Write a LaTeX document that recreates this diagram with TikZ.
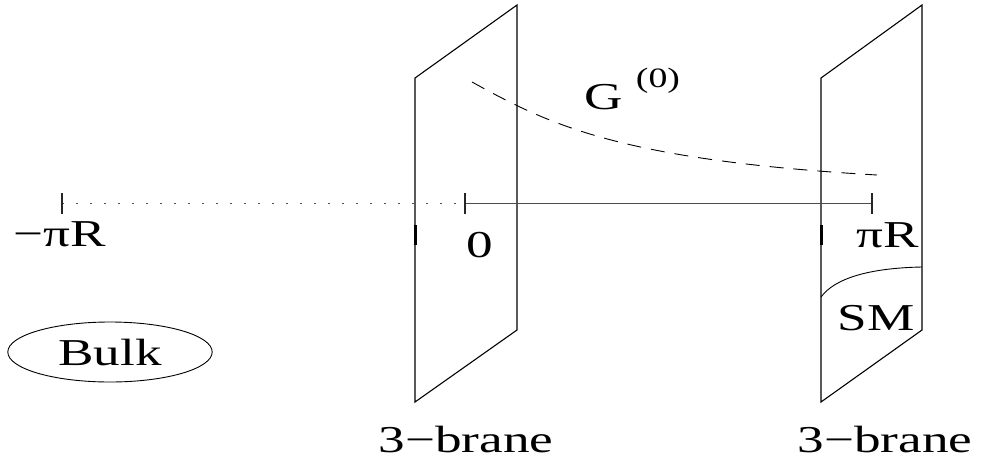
\documentclass[tikz,border=0pt]{standalone}
\usepackage{fontspec}
\setmainfont{Liberation Serif}
\usetikzlibrary{shapes.geometric}

\begin{document}
\begin{tikzpicture}[
      x=1pt, y=-1pt,
      brane/.style={draw, line width=1.1pt, line join=miter},
      axisline/.style={draw=black!70, line width=0.9pt},
      tickmark/.style={draw=black!85, line width=1.3pt},
      lbl/.style={font=\fontsize{38}{40}\selectfont, xscale=1.4, inner sep=0pt},
      suplbl/.style={font=\fontsize{28}{30}\selectfont, xscale=1.35, inner sep=0pt},
      every path/.style={line cap=butt}
    ]

    \useasboundingbox (0,0) rectangle (982,461);

    % the two branes
    \coordinate (lb1) at (415,78);
    \coordinate (lb2) at (517,5);
    \coordinate (lb3) at (517,330);
    \coordinate (lb4) at (415,402);
    \coordinate (rb1) at (821,78);
    \coordinate (rb2) at (922,5);
    \coordinate (rb3) at (922,330);
    \coordinate (rb4) at (821,402);

    \draw[brane] (lb1) -- (lb2) -- (lb3) -- (lb4) -- cycle;
    \draw[brane] (rb1) -- (rb2) -- (rb3) -- (rb4) -- cycle;

    \draw[line width=3pt] (415,225) -- (415,245);
    \draw[line width=3pt] (821,225) -- (821,245);

    % SM region on the right brane
    \draw[line width=0.9pt] (821,297) .. controls (835,278) and (870,268) .. (922,267);

    % extra dimension
    \coordinate (mpr)  at (62,203);
    \coordinate (zero) at (465,203);
    \coordinate (pr)   at (872,203);

    \draw[axisline, dash pattern=on 2pt off 12pt] (mpr) -- (zero);
    \draw[axisline] (zero) -- (pr);
    \foreach \c in {mpr, zero, pr}
      \draw[tickmark] ([yshift=10pt]\c) -- ([yshift=-11pt]\c);

    % zero mode profile
    \draw[line width=0.9pt, dash pattern=on 14pt off 10pt]
      (472,82) .. controls (550,125) and (620,160) .. (877,175);

    \node[lbl] (mprlbl)  at (60,234)  {−πR};
    \node[lbl] (zerolbl) at (480,245) {0};
    \node[lbl] (prlbl)   at (888,235) {πR};
    \node[lbl] (smlbl)   at (876,318) {SM};
    \node[lbl] (glbl)    at (604,97)  {G};
    \node[suplbl] (gsup) at (658,81)  {(0)};
    \node[lbl] (lbrane)  at (466,439) {3−brane};
    \node[lbl] (rbrane)  at (885,439) {3−brane};

    \node[draw, ellipse, line width=0.9pt, minimum width=146pt, minimum height=60pt,
          inner sep=0pt, font=\fontsize{38}{40}\selectfont, xscale=1.4] (bulk) at (110,352) {Bulk};
  \end{tikzpicture}
\end{document}
